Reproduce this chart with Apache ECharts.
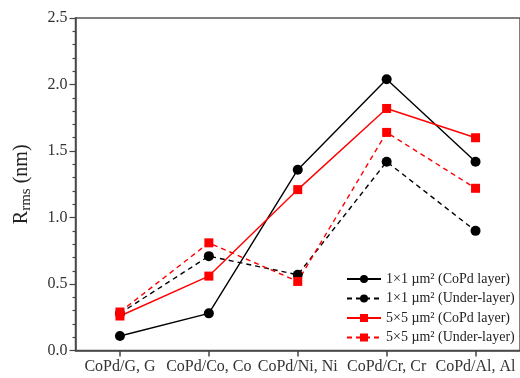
<!DOCTYPE html>
<html><head><meta charset="utf-8">
<script src="https://cdn.jsdelivr.net/npm/echarts@6/dist/echarts.min.js"></script>
<style>html,body{margin:0;padding:0;background:#fff}#c{width:520px;height:378px}</style>
</head><body><div id="c"></div>
<script>
var categories = ['CoPd/G, G', 'CoPd/Co, Co', 'CoPd/Ni, Ni', 'CoPd/Cr, Cr', 'CoPd/Al, Al'];
var s1x1Layer = [0.11, 0.28, 1.36, 2.04, 1.42];
var s1x1Under = [0.28, 0.71, 0.57, 1.42, 0.90];
var s5x5Layer = [0.26, 0.56, 1.21, 1.82, 1.60];
var s5x5Under = [0.29, 0.81, 0.52, 1.64, 1.22];
var seriesNames = ['1×1 µm² (CoPd layer)', '1×1 µm² (Under-layer)', '5×5 µm² (CoPd layer)', '5×5 µm² (Under-layer)'];
var yTicks = [0, 0.5, 1.0, 1.5, 2.0, 2.5];

var font = '"Liberation Serif", "Times New Roman", serif';
var chart = echarts.init(document.getElementById('c'), null, {renderer: 'canvas'});
function mk(name, data, color, symbol, dashed) {
  return {
    name: name, type: 'line', data: data, symbol: symbol, symbolSize: symbol === 'circle' ? 10 : 9,
    itemStyle: {color: color},
    lineStyle: {color: color, width: 1.4, type: dashed ? [5, 4] : 'solid'},
    emphasis: {disabled: true}, animation: false, z: 3
  };
}
chart.setOption({
  animation: false,
  grid: {left: 75.5, top: 18, bottom: 27.4, right: -7, show: true, borderColor: '#555', borderWidth: 1.5},
  legend: {
    orient: 'vertical', left: 341, top: 267, itemWidth: 34, itemHeight: 10, itemGap: 5.5,
    textStyle: {fontFamily: font, fontSize: 14, color: '#222'},
    data: seriesNames
  },
  xAxis: {
    type: 'category', data: categories, boundaryGap: true,
    axisLine: {lineStyle: {color: '#444', width: 1.5}},
    axisTick: {show: true, alignWithLabel: true, interval: 0, length: 6, lineStyle: {color: '#444', width: 1.5}},
    axisLabel: {interval: 0, fontFamily: font, fontSize: 16, color: '#333', margin: 8},
    splitLine: {show: false}
  },
  yAxis: {
    type: 'value', min: yTicks[0], max: yTicks[yTicks.length - 1], interval: 0.5,
    name: '{r|R}{s|rms}{r| (nm)}', nameLocation: 'middle', nameGap: 42, nameRotate: 90,
    nameTextStyle: {rich: {r: {fontFamily: font, fontSize: 20, color: '#222'}, s: {fontFamily: font, fontSize: 15, color: '#222', verticalAlign: 'bottom', padding: [9, 0, 0, 0]}}},
    axisLine: {show: true, lineStyle: {color: '#444', width: 1.5}},
    axisTick: {show: true, length: 6, lineStyle: {color: '#444', width: 1.2}},
    minorTick: {show: true, splitNumber: 5, length: 3, lineStyle: {color: '#444', width: 1.2}},
    axisLabel: {fontFamily: font, fontSize: 16, color: '#333', margin: 8, formatter: function (v) { return v.toFixed(1); }},
    splitLine: {show: false}
  },
  series: [
    mk(seriesNames[0], s1x1Layer, '#000', 'circle', false),
    mk(seriesNames[1], s1x1Under, '#000', 'circle', true),
    mk(seriesNames[2], s5x5Layer, '#f00', 'rect', false),
    mk(seriesNames[3], s5x5Under, '#f00', 'rect', true)
  ]
});
</script></body></html>
